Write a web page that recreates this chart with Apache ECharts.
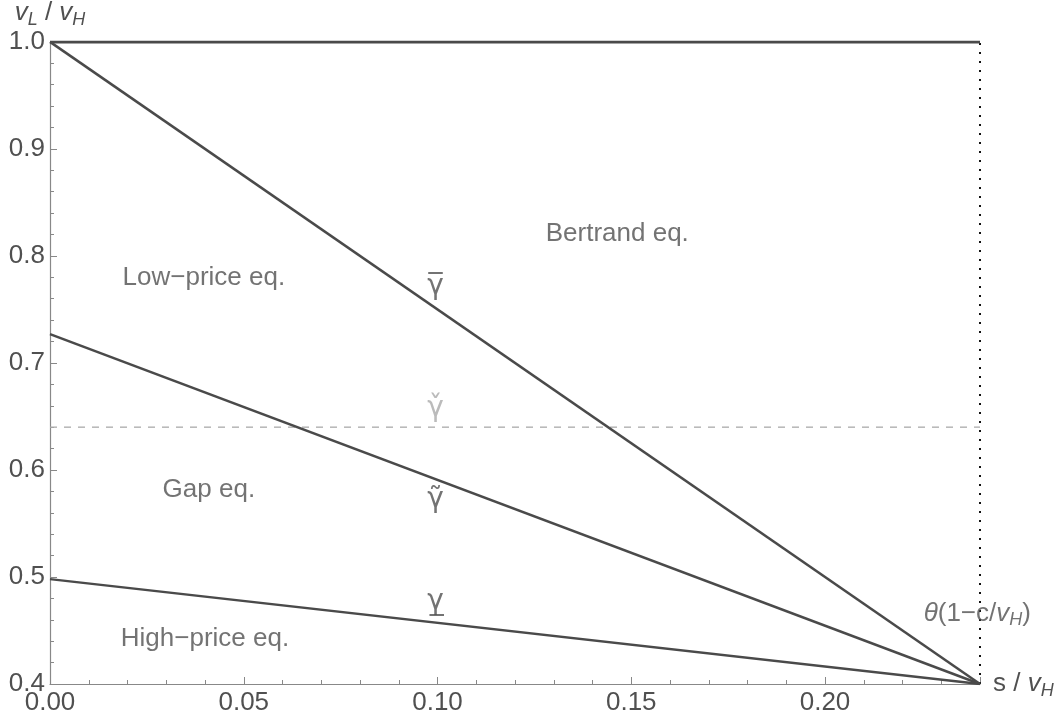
<!DOCTYPE html>
<html><head><meta charset="utf-8">
<script src="https://cdn.jsdelivr.net/npm/echarts@6/dist/echarts.min.js"></script>
<style>html,body{margin:0;padding:0;background:#fff}#c{width:1062px;height:724px}</style>
</head><body><div id="c"></div>
<script>
// ---- data ----
const sPts = [0, 0.24];              // s / vH from 0 to θ(1−c/vH)
const gammaBar = [1.0, 0.4];
const gammaTilde = [0.727, 0.4];
const gammaUnder = [0.498, 0.4];
const topLine = [1.0, 1.0];
const gammaCheck = [0.64, 0.64];
const thetaX = [0.24, 0.24];
const thetaY = [0.4, 1.0];
const regionNames = ['Bertrand eq.', 'Low\u2212price eq.', 'Gap eq.', 'High\u2212price eq.'];
const regionX = [0.1464, 0.0397, 0.0410, 0.0400];
const regionY = [0.821, 0.780, 0.581, 0.442];
const gammaNames = ['\u03B3\u0305', '\u03B3\u030C', '\u03B3\u0303', '\u03B3\u0332'];
const gammaX = [0.0995, 0.0995, 0.0995, 0.0995];
const gammaY = [0.771, 0.657, 0.572, 0.477];
const thetaLabelPos = [0.2393, 0.466];

// ---- build ----
const zip = (xs, ys) => xs.map((x, i) => [x, ys[i]]);
const FONT = 'Liberation Sans';
const TXT = '#505050';
const LINE = '#4a4a4a';

const lineSeries = (data, style) => ({
  type: 'line', data, symbol: 'none', silent: true, animation: false,
  lineStyle: style, z: 3
});

const richSub = (fs, sub) => ({
  n: { fontFamily: FONT, fontSize: fs, color: TXT },
  i: { fontFamily: FONT, fontSize: fs, color: TXT, fontStyle: 'italic' },
  sub: { fontFamily: FONT, fontSize: sub, color: TXT, fontStyle: 'italic', padding: [14, 0, 0, 0] }
});

const chart = echarts.init(document.getElementById('c'));
chart.setOption({
  animation: false,
  grid: { left: 50, right: 82, top: 34, bottom: 40, containLabel: false },
  xAxis: {
    type: 'value', min: 0, max: 0.24, interval: 0.05,
    name: '{n|s / }{i|v}{sub|H}', nameLocation: 'end', nameGap: 13,
    nameTextStyle: { rich: richSub(26, 18) },
    axisLine: { show: true, onZero: false, lineStyle: { color: '#888', width: 1.2 } },
    axisTick: { show: true, inside: true, length: 7, lineStyle: { color: '#888' } },
    minorTick: { show: true, splitNumber: 5, length: 4, lineStyle: { color: '#888' } },
    splitLine: { show: false },
    axisLabel: {
      fontFamily: FONT, fontSize: 26, color: TXT, margin: 6, showMaxLabel: false,
      formatter: v => v.toFixed(2)
    }
  },
  yAxis: {
    type: 'value', min: 0.4, max: 1.0, interval: 0.1,
    name: '{i|v}{sub|L}{n| / }{i|v}{sub|H}', nameLocation: 'end', nameGap: 8,
    nameTextStyle: { align: 'center', rich: richSub(26, 18) },
    axisLine: { show: true, onZero: false, lineStyle: { color: '#888', width: 1.2 } },
    axisTick: { show: true, inside: true, length: 7, lineStyle: { color: '#888' } },
    minorTick: { show: true, splitNumber: 5, length: 4, lineStyle: { color: '#888' } },
    splitLine: { show: false },
    axisLabel: {
      fontFamily: FONT, fontSize: 26, color: TXT, margin: 5,
      formatter: v => v.toFixed(1)
    }
  },
  series: [
    lineSeries(zip(sPts, gammaCheck), { color: '#aaa', width: 1.3, type: [7, 7] }),
    lineSeries(zip(thetaX, thetaY), { color: '#111', width: 2, type: [2, 7] }),
    lineSeries(zip(sPts, topLine), { color: LINE, width: 3 }),
    lineSeries(zip(sPts, gammaBar), { color: LINE, width: 2.5 }),
    lineSeries(zip(sPts, gammaTilde), { color: LINE, width: 2.5 }),
    lineSeries(zip(sPts, gammaUnder), { color: LINE, width: 2.5 }),
    {
      type: 'scatter', symbolSize: 1, silent: true, z: 5,
      itemStyle: { color: 'transparent' },
      label: { show: true, position: 'inside', formatter: '{b}',
        fontFamily: FONT, fontSize: 26, color: TXT },
      data: regionNames.map((n, i) => ({ name: n, value: [regionX[i], regionY[i]] }))
    },
    {
      type: 'scatter', symbolSize: 1, silent: true, z: 5,
      itemStyle: { color: 'transparent' },
      label: { show: true, position: 'inside', formatter: '{b}',
        fontFamily: 'DejaVu Sans', fontSize: 28, color: TXT },
      data: gammaNames.map((n, i) => ({ name: n, value: [gammaX[i], gammaY[i]],
        label: i === 1 ? { color: '#aaa' } : {} }))
    },
    {
      type: 'scatter', symbolSize: 1, silent: true, z: 5,
      itemStyle: { color: 'transparent' },
      label: { show: true, position: 'inside',
        formatter: '{i|\u03B8}{n|(1\u2212c/}{i|v}{sub|H}{n|)}',
        rich: richSub(26, 18)
      },
      data: [{ name: 'theta', value: thetaLabelPos }]
    }
  ]
});
</script></body></html>
